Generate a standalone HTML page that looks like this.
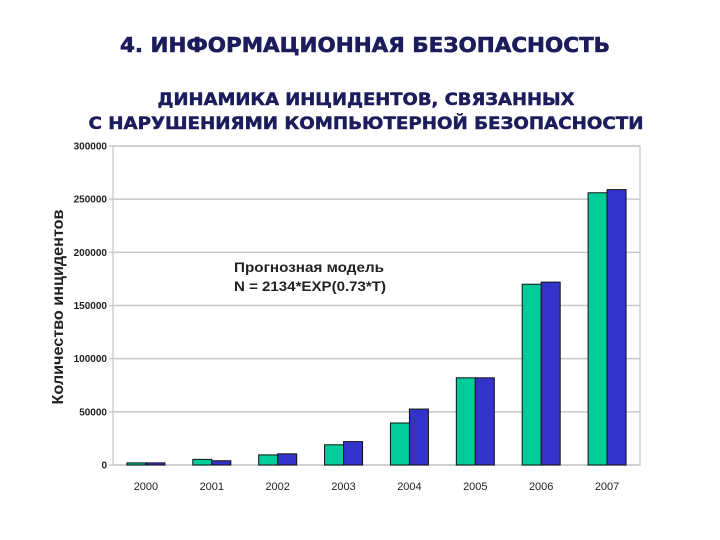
<!DOCTYPE html>
<html><head><meta charset="utf-8"><style>
html,body{margin:0;padding:0;background:#fff;}
svg{display:block;font-family:"Liberation Sans","DejaVu Sans",sans-serif;}
</style></head><body>
<svg id="chart" width="720" height="540" viewBox="0 0 720 540">
<text x="365" y="52" text-anchor="middle" font-family="DejaVu Sans, sans-serif" font-weight="bold" font-size="20" fill="#1c1c5c" stroke="#1c1c5c" stroke-width="0.6" textLength="490" lengthAdjust="spacingAndGlyphs">4. ИНФОРМАЦИОННАЯ БЕЗОПАСНОСТЬ</text>
<text x="366" y="105" text-anchor="middle" font-family="DejaVu Sans, sans-serif" font-weight="bold" font-size="17" fill="#1c1c5c" stroke="#1c1c5c" stroke-width="0.5" textLength="417" lengthAdjust="spacingAndGlyphs">ДИНАМИКА ИНЦИДЕНТОВ, СВЯЗАННЫХ</text>
<text x="366" y="129" text-anchor="middle" font-family="DejaVu Sans, sans-serif" font-weight="bold" font-size="17" fill="#1c1c5c" stroke="#1c1c5c" stroke-width="0.5" textLength="555" lengthAdjust="spacingAndGlyphs">С НАРУШЕНИЯМИ  КОМПЬЮТЕРНОЙ БЕЗОПАСНОСТИ</text>
<g id="grid"></g>
<g id="bars"></g>
<g id="labels"></g>
<text transform="translate(63,307) rotate(-90)" text-anchor="middle" font-weight="bold" font-size="16" fill="#222" textLength="195" lengthAdjust="spacingAndGlyphs">Количество инцидентов</text>
<text x="234" y="272" font-weight="bold" font-size="14" fill="#222" textLength="150" lengthAdjust="spacingAndGlyphs">Прогнозная модель</text>
<text x="234" y="291" font-weight="bold" font-size="14" fill="#222" textLength="152" lengthAdjust="spacingAndGlyphs">N = 2134*EXP(0.73*T)</text>
</svg>
<script>
const years = ["2000","2001","2002","2003","2004","2005","2006","2007"];
const actual = [2000,5300,9500,19000,39500,82000,170000,256000];
const forecast = [2000,4000,10500,22000,52600,82000,172000,259000];
const yTicks = [0,50000,100000,150000,200000,250000,300000];
const yMax = 300000;
const L=113,R=640,T=146,B=465;
const ns="http://www.w3.org/2000/svg";
function y(v){return B-(v/yMax)*(B-T);}
const bw=(R-L)/years.length;
function xc(i){return L+bw*(i+0.5);}
function mk(tag,attrs,parent){const e=document.createElementNS(ns,tag);for(const k in attrs)e.setAttribute(k,attrs[k]);parent.appendChild(e);return e;}
const grid=document.getElementById('grid'),bars=document.getElementById('bars'),labels=document.getElementById('labels');
mk('rect',{x:L,y:T,width:R-L,height:B-T,fill:'none',stroke:'#d0d0d0','stroke-width':1.5},grid);
yTicks.forEach(v=>{
 const l=mk('line',{x1:L-4,x2:R,y1:y(v),y2:y(v),stroke:'#c8c8c8','stroke-width':1.5},grid);
 
 
 const t=mk('text',{x:L-6,y:y(v)+3.5,'text-anchor':'end','font-size':10,'font-weight':'bold',fill:'#222'},labels);
 t.textContent=v;
 
 
});
const w=19;
years.forEach((yr,i)=>{
 const c=xc(i);
 const g=mk('rect',{x:c-w,y:y(actual[i]),width:w,height:B-y(actual[i]),fill:'#00cc99',stroke:'#111','stroke-width':1},bars);
 
 
 const b=mk('rect',{x:c,y:y(forecast[i]),width:w,height:B-y(forecast[i]),fill:'#3333cc',stroke:'#111','stroke-width':1},bars);
 
 
 const t=mk('text',{x:c,y:490,'text-anchor':'middle','font-size':11,fill:'#222'},labels);
 t.textContent=yr;
 
 
});
</script>
</body></html>
